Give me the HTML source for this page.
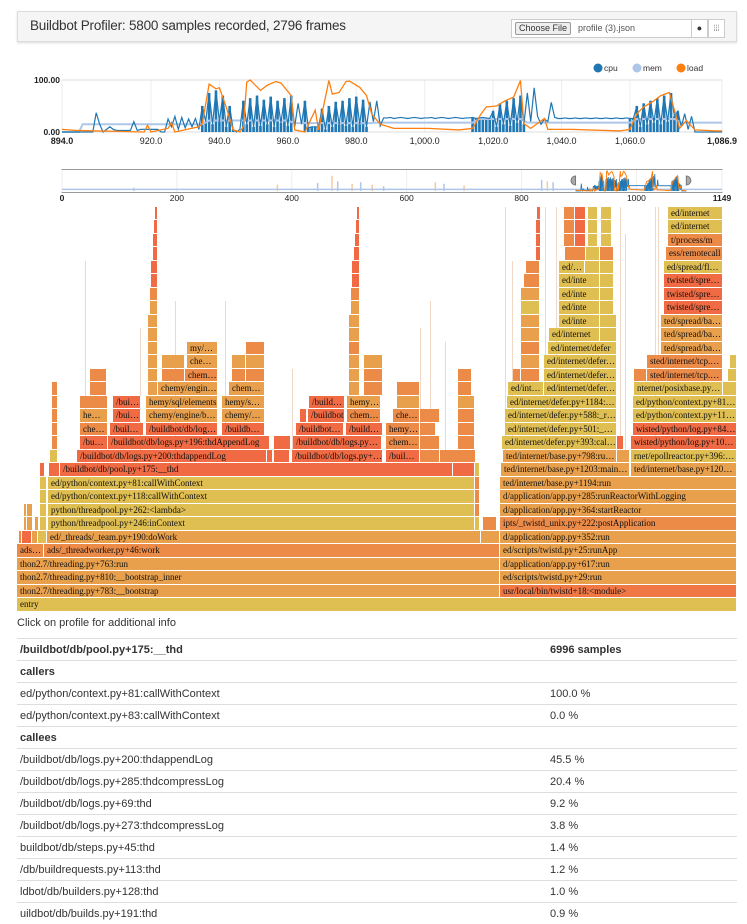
<!DOCTYPE html>
<html><head><meta charset="utf-8">
<style>
body{margin:0;width:747px;height:921px;background:#fff;position:relative;overflow:hidden;font-family:"Liberation Sans",sans-serif;color:#333}
.hdr{position:absolute;left:17px;top:11px;width:718px;height:29px;background:#f5f5f5;border:1px solid #ddd;box-shadow:0 1px 2px rgba(0,0,0,.15)}
.hdr .t{position:absolute;left:12px;top:6px;font-size:13.5px;letter-spacing:-0.2px}
.file{position:absolute;left:493px;top:7px;width:179px;height:17px;border:1px solid #ccc;background:#fff;font-size:9px}
.file .b{position:absolute;left:3px;top:2px;height:11px;padding:0 3px;border:1px solid #999;background:#eee;border-radius:2px;line-height:11px}
.file .n{position:absolute;left:66px;top:3px;color:#555}
.ib{position:absolute;top:7px;width:15px;height:17px;border:1px solid #ccc;background:#fff;font-size:9px;text-align:center;line-height:17px}
.fb{position:absolute;height:12.5px;box-sizing:border-box;font-family:"Liberation Serif",serif;font-size:9px;line-height:12.5px;color:#111;padding-left:3px;white-space:nowrap;overflow:hidden;text-overflow:ellipsis;border-right:1px solid #fff}
.info{position:absolute;left:17px;top:617px;font-size:11px}
table{position:absolute;left:17px;top:638px;width:720px;border-collapse:collapse;font-size:11px}
td{height:21px;border-top:1px solid #ddd;padding:0 3px;vertical-align:middle}
</style></head><body>
<div class="hdr">
<div class="t">Buildbot Profiler: 5800 samples recorded, 2796 frames</div>
<div class="file"><span class="b">Choose File</span><span class="n">profile (3).json</span></div>
<div class="ib" style="left:673px">●</div>
<div class="ib" style="left:690px">⦙⦙⦙</div>
</div>
<svg id="ch" width="747" height="210" style="position:absolute;left:0;top:0"></svg>
<div id="flame"></div>
<div class="info">Click on profile for additional info</div>
<table>
<tr><td style="width:524px;font-weight:bold;border-top:1px solid #ddd;border-bottom:1px solid #ddd">/buildbot/db/pool.py+175:__thd</td><td style="font-weight:bold;border-top:1px solid #ddd">6996 samples</td></tr>
<tr><td style="font-weight:bold">callers</td><td></td></tr>
<tr><td>ed/python/context.py+81:callWithContext</td><td>100.0 %</td></tr>
<tr><td>ed/python/context.py+83:callWithContext</td><td>0.0 %</td></tr>
<tr><td style="font-weight:bold">callees</td><td></td></tr>
<tr><td>/buildbot/db/logs.py+200:thdappendLog</td><td>45.5 %</td></tr>
<tr><td>/buildbot/db/logs.py+285:thdcompressLog</td><td>20.4 %</td></tr>
<tr><td>/buildbot/db/logs.py+69:thd</td><td>9.2 %</td></tr>
<tr><td>/buildbot/db/logs.py+273:thdcompressLog</td><td>3.8 %</td></tr>
<tr><td>buildbot/db/steps.py+45:thd</td><td>1.4 %</td></tr>
<tr><td>/db/buildrequests.py+113:thd</td><td>1.2 %</td></tr>
<tr><td>ldbot/db/builders.py+128:thd</td><td>1.0 %</td></tr>
<tr><td>uildbot/db/builds.py+191:thd</td><td>0.9 %</td></tr>
</table>
<script>
const xTicks=[894,920,940,960,980,1000,1020,1040,1060,1086.9];
const xTickLabels=["894.0","920.0","940.0","960.0","980.0","1,000.0","1,020.0","1,040.0","1,060.0","1,086.9"];
const yTickLabels=["0.00","100.00"];
const miniTicks=[0,200,400,600,800,1000,1149];
const cpuStart=894;
const cpuV=[0,0,0,0,0,0,0,0,0,0,37,15,0,5,10,5,3,3,3,3,3,20,3,5,5,5,5,5,5,0,0,25,10,30,5,28,8,25,10,26,5,50,20,75,15,80,20,70,10,50,5,0,5,60,15,65,10,70,12,62,15,68,10,60,18,65,12,70,10,55,15,60,8,10,10,10,45,5,50,10,58,15,60,12,65,10,68,15,62,10,58,20,60,12,27,27,28,26,27,28,27,26,27,28,27,26,27,27,28,26,27,28,27,26,27,28,27,26,27,27,28,26,27,28,27,26,40,10,55,15,60,12,65,18,70,15,75,20,85,30,15,25,20,57,28,26,26,27,26,26,27,26,26,27,26,26,27,26,26,27,26,26,27,26,26,27,26,26,50,10,55,15,60,18,65,15,70,20,75,30,40,10,35,5,30,0,0,0,0,0,0,0,0,0];
const burstStart=[935,947,965,1014,1060];
const burstEnd=[944,961,983,1029,1074];
const loadT=[894,898,918,919,920,925,926,927,934,935,937,939,940,942,944,946,947,948,949,952,954,956.5,958,961,962,965,968,969,972,973,975,977,978,981,983,984.5,987,991,1001,1010,1014,1016.5,1018,1021,1023.5,1026,1028,1029,1031,1035,1036,1043,1057,1060,1062,1064,1067,1069,1071.5,1073,1074.5,1076.5,1079,1085,1086.9];
const loadV=[5,3,0,13,0,7,18,0,10,16,92,83,85,48,4,0,10,96,100,80,90,97,94,70,4,0,42,4,99,73,76,97,98,86,70,35,15,7,7,4,7,35,48,50,60,67,99,16,7,26,5,5,2,5,35,48,60,70,76,42,7,22,4,2,2];
const memT=[894,899,900,935,937,960,962,984,986,1014,1016,1028,1030,1060,1062,1073,1075,1086.9];
const memV=[0,0,15,15,22,22,17,17,18,18,25,25,18,18,25,25,18,18];
const miniSpikeT=[125,375,445,470,480,505,520,540,560,650,665,700,835,845,855];
const miniSpikeV=[20,40,50,95,60,45,55,40,30,55,45,35,70,60,55];

const svg=document.getElementById('ch');const NS='http://www.w3.org/2000/svg';
function mk(t,a,p){const e=document.createElementNS(NS,t);for(const k in a)e.setAttribute(k,a[k]);(p||svg).appendChild(e);return e;}
const X=t=>62+(t-894)/(1086.9-894)*660, Y=v=>132-v*0.52;
const MX=t=>62+t/1149*660, MY=v=>191-v*0.2;
xTicks.forEach((t,i)=>{const g=mk('line',{x1:X(t),x2:X(t),y1:80,y2:132,stroke:'#eee'});
const l=mk('text',{x:X(t),y:144,'font-size':9,'text-anchor':'middle','font-weight':(i==0||i==xTicks.length-1)?'bold':'normal',fill:'#222'});l.textContent=xTickLabels[i];
});
[0,100].forEach((v,i)=>{const g=mk('line',{x1:62,x2:722,y1:Y(v),y2:Y(v),stroke:'#ddd'});
const l=mk('text',{x:60,y:Y(v)+3,'font-size':8.5,'text-anchor':'end','font-weight':'bold',fill:'#222'});l.textContent=yTickLabels[i];});
function poly(ts,vs,fx,fy,col,w,name){const pts=ts.map((t,i)=>fx(t)+','+fy(vs[i])).join(' ');const p=mk('polyline',{points:pts,fill:'none',stroke:col,'stroke-width':w});}
const cpuT=cpuV.map((v,i)=>cpuStart+i);
function inBurst(t){for(let k=0;k<burstStart.length;k++)if(t>=burstStart[k]&&t<=burstEnd[k])return true;return false;}
cpuT.forEach((t,i)=>{if(!inBurst(t))return;const v=cpuV[i];
const r=mk('rect',{x:X(t)-1.3,y:Y(v),width:2.6,height:Y(0)-Y(v),fill:'#1f77b4'});

});
poly(memT,memV,X,Y,'#aec7e8',2,'mem-line');
poly(cpuT,cpuV,X,Y,'#1f77b4',1.2,'cpu-line');
poly(loadT,loadV,X,Y,'#ff7f0e',1.3,'load-line');
[['cpu','#1f77b4',598],['mem','#aec7e8',637],['load','#ff7f0e',681]].forEach(d=>{const c=mk('circle',{cx:d[2],cy:68,r:4.5,fill:d[1]});
const t=mk('text',{x:d[2]+6,y:71,'font-size':8.5,fill:'#333'});t.textContent=d[0];});
const mb=mk('rect',{x:62,y:169.5,width:660,height:23,fill:'#fff',stroke:'#999'});
miniTicks.forEach(t=>{const g=mk('line',{x1:MX(t),x2:MX(t),y1:170,y2:192,stroke:'#eee'});
const l=mk('text',{x:MX(t),y:201,'font-size':8.5,'text-anchor':'middle','font-weight':(t==0||t==1149)?'bold':'normal',fill:'#222'});l.textContent=t;});
miniSpikeT.forEach((t,i)=>{const s=mk('line',{x1:MX(t),x2:MX(t),y1:191,y2:MY(miniSpikeV[i]*0.8),stroke:i%2?'#f5c9a0':'#aec7e8','stroke-width':1.5});});
poly([0,1149],[8,8],MX,MY,'#aec7e8',1.5,'mini-mem-line');
cpuT.forEach((t,i)=>{if(!inBurst(t))return;const r=mk('rect',{x:MX(t)-0.3,y:MY(cpuV[i]),width:0.6,height:MY(0)-MY(cpuV[i]),fill:'#1f77b4'});

});
poly(cpuT,cpuV,MX,MY,'#1f77b4',0.8,'mini-cpu-line');
poly(loadT,loadV,MX,MY,'#ff7f0e',1,'mini-load-line');
const br=mk('rect',{x:MX(894),y:169.5,width:MX(1086.9)-MX(894),height:23,fill:'none'});
[MX(894),MX(1086.9)].forEach(x=>{const h=mk('path',{d:`M${x} 176 a4 4 0 0 ${x<600?0:1} 0 9 z`,fill:'#aaa',stroke:'#777'});});

const C={Y:'#dfbe52',O:'#e8a04c',D:'#ec8a48',R:'#f06a43',U:'#ef7845'};
const blocks=[
[17,737,0,'Y','entry'],
[17,500,1,'O','thon2.7/threading.py+783:__bootstrap'],[500,737,1,'U','usr/local/bin/twistd+18:<module>'],
[17,500,2,'O','thon2.7/threading.py+810:__bootstrap_inner'],[500,737,2,'O','ed/scripts/twistd.py+29:run'],
[17,500,3,'O','thon2.7/threading.py+763:run'],[500,737,3,'O','d/application/app.py+617:run'],
[17,44,4,'D','ads…'],[44,500,4,'D','ads/_threadworker.py+46:work'],[500,737,4,'O','ed/scripts/twistd.py+25:runApp'],
[19,22,5,'D',''],[22,32,5,'R',''],[32,38,5,'O',''],[38,47,5,'Y',''],[47,481,5,'O','ed/_threads/_team.py+190:doWork'],[481,500,5,'O',''],[500,737,5,'O','d/application/app.py+352:run'],
[24,27,6,'O',''],[27,33,6,'O',''],[35,39,6,'O',''],[40,47,6,'Y',''],[48,475,6,'Y','python/threadpool.py+246:inContext'],[475,480,6,'Y',''],[483,497,6,'D',''],[500,737,6,'D','ipts/_twistd_unix.py+222:postApplication'],
[24,27,7,'O',''],[27,33,7,'O',''],[40,47,7,'Y',''],[48,475,7,'Y','python/threadpool.py+262:<lambda>'],[475,480,7,'D',''],[500,737,7,'O','d/application/app.py+364:startReactor'],
[40,47,8,'Y',''],[48,475,8,'Y','ed/python/context.py+118:callWithContext'],[475,480,8,'D',''],[500,737,8,'O','d/application/app.py+285:runReactorWithLogging'],
[40,47,9,'Y',''],[48,475,9,'Y','ed/python/context.py+81:callWithContext'],[475,480,9,'D',''],[500,737,9,'O','ted/internet/base.py+1194:run'],
[40,45,10,'R',''],[49,60,10,'R',''],[60,453,10,'R','/buildbot/db/pool.py+175:__thd'],[453,475,10,'R',''],[475,480,10,'Y',''],[501,630,10,'O','ted/internet/base.py+1203:mainLoop'],[631,737,10,'O','ted/internet/base.py+1203:mainLoop'],
[50,58,11,'Y',''],[77,267,11,'R','/buildbot/db/logs.py+200:thdappendLog'],[267,273,11,'R',''],[274,290,11,'R',''],[292,383,11,'R','/buildbot/db/logs.py+200:thdappendLog'],[386,420,11,'R','/buildbot/db/logs.py+285'],[420,440,11,'D',''],[440,476,11,'D',''],[503,617,11,'O','ted/internet/base.py+798:runUntilCurrent'],[617,630,11,'O',''],[631,737,11,'Y','rnet/epollreactor.py+396:_doReadOrWrite'],
[52,58,12,'D',''],[80,108,12,'R','/bu…'],[108,270,12,'R','/buildbot/db/logs.py+196:thdAppendLog'],[274,291,12,'R',''],[293,382,12,'R','/buildbot/db/logs.py+196'],[386,420,12,'D','chem…'],[420,440,12,'D',''],[458,475,12,'D',''],[502,617,12,'Y','ed/internet/defer.py+393:callback'],[617,624,12,'R',''],[631,737,12,'R','wisted/python/log.py+101:callWithLogger'],
[52,58,13,'D',''],[80,108,13,'D','che…'],[110,144,13,'R','/buil…'],[146,218,13,'R','/buildbot/db/logs.py+'],[222,265,13,'R','/buildbot/db/'],[296,344,13,'R','/buildbot/db/'],[346,383,13,'R','/buildbot/'],[386,420,13,'D','hemy…'],[420,436,13,'D',''],[458,475,13,'D',''],[505,617,13,'Y','ed/internet/defer.py+501:_startRunCallbacks'],[633,737,13,'R','wisted/python/log.py+84:callWithContext'],
[52,58,14,'D',''],[80,108,14,'O','he…'],[113,141,14,'R','/bui…'],[146,218,14,'O','chemy/engine/base'],[222,265,14,'O','chemy/engine'],[300,307,14,'R',''],[308,345,14,'R','/buildbot'],[347,381,14,'D','chem…'],[393,420,14,'D','che…'],[420,440,14,'D',''],[458,475,14,'D',''],[505,617,14,'Y','ed/internet/defer.py+588:_runCallbacks'],[633,737,14,'Y','ed/python/context.py+118:callWithContext'],
[52,58,15,'D',''],[80,108,15,'D',''],[113,141,15,'R','/bui…'],[146,218,15,'O','hemy/sql/elements'],[222,265,15,'O','hemy/sql/ele'],[309,345,15,'R','/buildbot'],[347,381,15,'O','hemy…'],[397,420,15,'O',''],[458,475,15,'O',''],[507,617,15,'Y','ed/internet/defer.py+1184:_inlineCallbacks'],[633,737,15,'Y','ed/python/context.py+81:callWithContext'],
[52,58,16,'D',''],[90,107,16,'D',''],[148,158,16,'O',''],[158,218,16,'O','chemy/engine/base'],[229,265,16,'O','chem…'],[349,360,16,'O',''],[364,383,16,'D',''],[397,420,16,'D',''],[458,472,16,'D',''],[508,544,16,'Y','ed/internet'],[544,617,16,'Y','ed/internet/defer.py'],[634,723,16,'Y','nternet/posixbase.py+614'],[723,737,16,'Y',''],
[90,107,17,'D',''],[148,158,17,'O',''],[162,185,17,'D',''],[185,218,17,'D','chem…'],[232,246,17,'D',''],[246,265,17,'D',''],[349,360,17,'O',''],[364,383,17,'D',''],[458,472,17,'D',''],[513,521,17,'D',''],[521,540,17,'D',''],[544,617,17,'Y','ed/internet/defer.py'],[634,647,17,'D',''],[647,723,17,'D','sted/internet/tcp.py+214'],[728,737,17,'Y',''],
[148,158,18,'O',''],[162,185,18,'O',''],[187,218,18,'O','che…'],[232,246,18,'O',''],[246,265,18,'O',''],[349,360,18,'O',''],[364,383,18,'O',''],[521,540,18,'O',''],[544,617,18,'Y','ed/internet/defer.py'],[647,723,18,'D','sted/internet/tcp.py+'],[730,737,18,'Y',''],
[148,158,19,'O',''],[187,218,19,'O','my/…'],[246,265,19,'D',''],[349,360,19,'D',''],[521,540,19,'D',''],[548,617,19,'Y','ed/internet/defer'],[661,723,19,'O','ted/spread/banana'],
[148,158,20,'O',''],[349,360,20,'O',''],[521,540,20,'O',''],[549,600,20,'Y','ed/internet'],[600,617,20,'Y',''],[661,723,20,'O','ted/spread/banana'],
[148,158,21,'O',''],[349,360,21,'O',''],[521,540,21,'O',''],[559,600,21,'Y','ed/inte'],[600,617,21,'Y',''],[661,723,21,'O','ted/spread/banana'],
[150,158,22,'O',''],[351,360,22,'O',''],[521,540,22,'Y',''],[559,600,22,'Y','ed/inte'],[600,614,22,'Y',''],[664,723,22,'R','twisted/spread/pb'],
[150,158,23,'D',''],[351,360,23,'D',''],[521,540,23,'O',''],[559,600,23,'Y','ed/inte'],[600,614,23,'Y',''],[664,723,23,'R','twisted/spread/pb'],
[151,158,24,'R',''],[352,360,24,'R',''],[524,540,24,'D',''],[559,600,24,'Y','ed/inte'],[600,614,24,'Y',''],[664,723,24,'R','twisted/spread/pb'],
[151,158,25,'R',''],[352,360,25,'R',''],[526,540,25,'D',''],[559,585,25,'Y','ed/…'],[585,600,25,'Y',''],[600,614,25,'Y',''],[664,723,25,'Y','ed/spread/flavors'],
[153,158,26,'R',''],[354,360,26,'R',''],[536,541,26,'R',''],[565,586,26,'D',''],[586,600,26,'Y',''],[600,614,26,'D',''],[666,723,26,'D','ess/remotecall'],
[153,158,27,'R',''],[355,360,27,'R',''],[536,541,27,'R',''],[564,575,27,'D',''],[575,586,27,'R',''],[588,598,27,'Y',''],[601,612,27,'Y',''],[668,723,27,'D','t/process/m'],
[154,158,28,'R',''],[356,360,28,'R',''],[536,541,28,'R',''],[564,575,28,'D',''],[575,586,28,'R',''],[588,598,28,'Y',''],[601,612,28,'Y',''],[668,723,28,'Y','ed/internet'],
[155,158,29,'R',''],[357,360,29,'R',''],[537,541,29,'R',''],[564,575,29,'D',''],[575,586,29,'R',''],[588,598,29,'Y',''],[601,612,29,'Y',''],[668,723,29,'Y','ed/internet']];
const thin=[[85,10,25],[140,11,20],[175,11,22],[225,11,22],[292,11,17],[420,11,20],[430,11,22],[445,11,19],[505,11,29],[512,11,25],[545,11,29],[556,16,29],[620,11,29],[625,11,27],[655,11,29],[658,16,29]];
const fl=document.getElementById('flame');
const LY=l=>598-l*13.5;
thin.forEach(t=>{const d=document.createElement('div');d.className='fb';d.style.cssText=`left:${t[0]}px;top:${LY(t[2])}px;width:2px;height:${(t[2]-t[1]+1)*13.5-1}px;background:#efd9c6;padding:0`;


fl.appendChild(d);});
blocks.forEach(b=>{const d=document.createElement('div');d.className='fb';d.style.left=b[0]+'px';d.style.top=LY(b[2])+'px';d.style.width=(b[1]-b[0])+'px';d.style.background=C[b[3]];d.textContent=b[4];if(b[1]-b[0]<12)d.style.padding='0';


fl.appendChild(d);});
</script>
</body></html>
